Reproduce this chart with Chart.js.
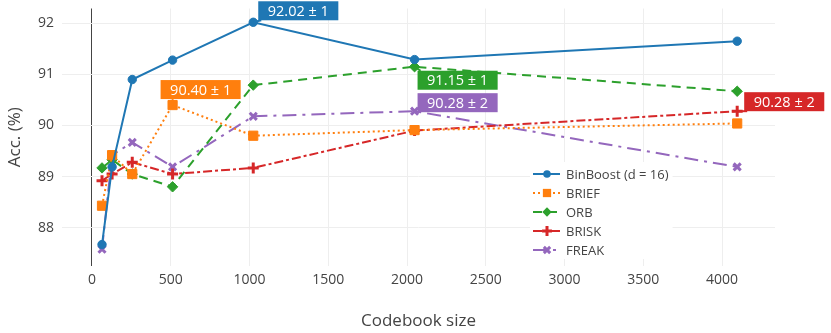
<!DOCTYPE html>
<html>
<head>
<meta charset="utf-8">
<script src="https://cdn.jsdelivr.net/npm/chart.js@4/dist/chart.umd.min.js"></script>
<style>
  html, body { margin: 0; padding: 0; background: #fff; }
  #chart { display: block; }
</style>
</head>
<body>
<canvas id="chart" width="831" height="333"></canvas>
<script>
// values
const codebookSizes = [64, 128, 256, 512, 1024, 2048, 4096];
const binboost = [87.67, 89.19, 90.90, 91.28, 92.02, 91.29, 91.65];
const brief = [88.43, 89.42, 89.05, 90.40, 89.80, 89.91, 90.04];
const orb = [89.17, 89.33, 89.05, 88.80, 90.79, 91.15, 90.67];
const brisk = [88.92, 89.05, 89.28, 89.05, 89.17, 89.90, 90.28];
const freak = [87.58, 89.42, 89.67, 89.19, 90.18, 90.28, 89.19];

const seriesNames = ["BinBoost (d = 16)", "BRIEF", "ORB", "BRISK", "FREAK"];
const xTicks = [0, 500, 1000, 1500, 2000, 2500, 3000, 3500, 4000];
const yTicks = [88, 89, 90, 91, 92];

// labelled points: series index, point index, text
const annSeries = [0, 1, 2, 4, 3];
const annPoints = [4, 3, 5, 5, 6];
const annTexts = ["92.02 ± 1", "90.40 ± 1", "91.15 ± 1", "90.28 ± 2", "90.28 ± 2"];
// box offsets from the point (left, top), px
const annOffsets = [[5, -21], [-12, -25], [3, 4], [3, -18], [7, -19]];

const colors = ["#1f77b4", "#ff7f0e", "#2ca02c", "#d62728", "#9467bd"];
const dashes = [[], [2, 3], [9, 6], [9, 3, 3, 3], [14, 6, 3, 6]];
const styles = ["circle", "rect", "rectRot", "cross", "crossRot"];
const radii = [4.2, 6.5, 5.2, 5.5, 5];
const borders = [1, 1, 1, 3, 3];

const FONT = "'Open Sans', sans-serif";
const allSeries = [binboost, brief, orb, brisk, freak];

const datasets = allSeries.map((vals, i) => ({
  label: seriesNames[i],
  data: vals.map((v, j) => ({ x: codebookSizes[j], y: v })),
  borderColor: colors[i],
  backgroundColor: colors[i],
  borderWidth: 2,
  borderDash: dashes[i],
  pointStyle: styles[i],
  pointRadius: radii[i],
  pointBorderWidth: borders[i],
  pointBackgroundColor: colors[i],
  pointBorderColor: colors[i],
  tension: 0,
  clip: false,
}));

function drawMarker(ctx, style, x, y, r, color, bw) {
  ctx.save();
  ctx.fillStyle = color;
  ctx.strokeStyle = color;
  ctx.lineWidth = bw;
  ctx.setLineDash([]);
  ctx.beginPath();
  if (style === "circle") {
    ctx.arc(x, y, r, 0, Math.PI * 2);
    ctx.fill();
  } else if (style === "rect") {
    const s = r * Math.SQRT1_2;
    ctx.rect(x - s, y - s, 2 * s, 2 * s);
    ctx.fill();
  } else if (style === "rectRot") {
    ctx.moveTo(x, y - r); ctx.lineTo(x + r, y); ctx.lineTo(x, y + r); ctx.lineTo(x - r, y);
    ctx.closePath();
    ctx.fill();
  } else if (style === "cross") {
    ctx.moveTo(x - r, y); ctx.lineTo(x + r, y);
    ctx.moveTo(x, y - r); ctx.lineTo(x, y + r);
    ctx.stroke();
  } else {
    const s = r * Math.SQRT1_2;
    ctx.moveTo(x - s, y - s); ctx.lineTo(x + s, y + s);
    ctx.moveTo(x + s, y - s); ctx.lineTo(x - s, y + s);
    ctx.stroke();
  }
  ctx.restore();
}

const overlay = {
  id: "overlay",
  afterDraw(chart) {
    const ctx = chart.ctx;
    const xs = chart.scales.x, ys = chart.scales.y;

    // annotations
    ctx.save();
    ctx.font = "14.5px " + FONT;
    annTexts.forEach((t, k) => {
      const s = annSeries[k], p = annPoints[k];
      const px = xs.getPixelForValue(codebookSizes[p]);
      const py = ys.getPixelForValue(allSeries[s][p]);
      const w = ctx.measureText(t).width + 19, h = 19;
      const bx = px + annOffsets[k][0], by = py + annOffsets[k][1];
      // tail
      const cy = annOffsets[k][1] < 0 ? by + h : by;
      const cx = annOffsets[k][0] < 0 ? bx + 12 : bx + 3;
      ctx.strokeStyle = colors[s];
      ctx.lineWidth = 2;
      ctx.setLineDash([]);
      ctx.beginPath();
      ctx.moveTo(px, py);
      ctx.lineTo(cx, cy);
      ctx.stroke();
      ctx.fillStyle = colors[s];
      ctx.fillRect(bx, by, w, h);
      ctx.fillStyle = "#fff";
      ctx.textBaseline = "middle";
      ctx.textAlign = "center";
      ctx.fillText(t, bx + w / 2, by + h / 2 + 1);
    });
    ctx.restore();

    // legend
    const lx = 533;
    const ly = 162;
    ctx.save();
    ctx.font = "13px " + FONT;
    const tw = Math.max(...seriesNames.map(n => ctx.measureText(n).width));
    ctx.fillStyle = "#fff";
    ctx.fillRect(lx - 3, ly, 40 + tw, 97);
    seriesNames.forEach((n, i) => {
      const yy = ly + 12 + i * 19;
      ctx.strokeStyle = colors[i];
      ctx.lineWidth = 2;
      ctx.setLineDash(dashes[i]);
      ctx.beginPath();
      ctx.moveTo(lx, yy);
      ctx.lineTo(lx + 27, yy);
      ctx.stroke();
      drawMarker(ctx, styles[i], lx + 14, yy, radii[i] * 0.9, colors[i], borders[i]);
      ctx.fillStyle = "#444";
      ctx.textBaseline = "middle";
      ctx.textAlign = "left";
      ctx.fillText(n, lx + 33, yy + 1);
    });
    ctx.restore();
  },
};

const chart = new Chart(document.getElementById("chart"), {
  type: "line",
  data: { datasets },
  plugins: [overlay],
  options: {
    responsive: false,
    animation: false,
    devicePixelRatio: 1,
    layout: { padding: { top: 1.5, right: 56, left: 0, bottom: 0 } },
    plugins: { legend: { display: false }, tooltip: { enabled: false } },
    scales: {
      x: {
        type: "linear",
        min: -190,
        max: 4336,
        afterBuildTicks: (s) => { s.ticks = xTicks.map(v => ({ value: v })); },
        afterFit: (s) => { s.height = 67; s.paddingLeft = 0; s.paddingRight = 0; },
        grid: {
          drawTicks: false,
          color: (c) => (c.tick && c.tick.value === 0 ? "#444" : "#eee"),
          lineWidth: 1,
        },
        border: { display: false },
        ticks: {
          color: "#444",
          font: { family: FONT, size: 14 },
          padding: 6,
          callback: (v) => String(v),
        },
        title: {
          display: true,
          text: "Codebook size",
          color: "#444",
          font: { family: FONT, size: 17 },
          padding: { top: 2, bottom: 2 },
        },
      },
      y: {
        type: "linear",
        min: 87.24,
        max: 92.35,
        afterBuildTicks: (s) => { s.ticks = yTicks.map(v => ({ value: v })); },
        afterFit: (s) => { s.width = 62; s.paddingTop = 0; s.paddingBottom = 0; },
        grid: { drawTicks: false, color: "#eee", lineWidth: 1 },
        border: { display: false },
        ticks: {
          color: "#444",
          font: { family: FONT, size: 14, lineHeight: 0.5 },
          padding: 8,
          callback: (v) => String(v),
        },
        title: {
          display: true,
          text: "Acc. (%)",
          color: "#444",
          font: { family: FONT, size: 17 },
          padding: { top: 5, bottom: 5 },
        },
      },
    },
  },
});

// fit the y range so that 92 sits at 23px and 88 at 228px, whatever the layout gave
const area = chart.chartArea;
const pxPerUnit = (227.7 - 23.3) / 4;
chart.options.scales.y.max = 92 + (23.3 - area.top) / pxPerUnit;
chart.options.scales.y.min = 88 - (area.bottom - 227.7) / pxPerUnit;
chart.update();
</script>
</body>
</html>
